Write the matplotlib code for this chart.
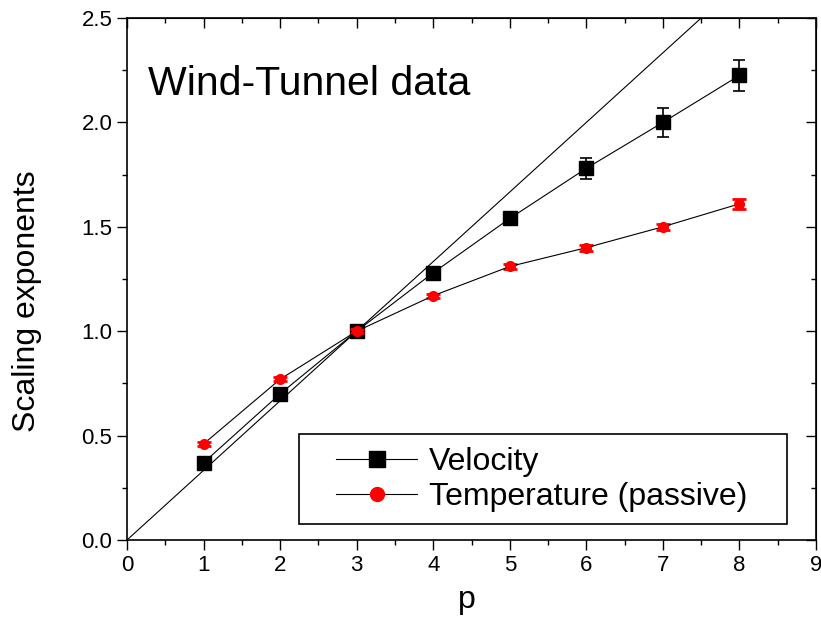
import matplotlib
matplotlib.use("Agg")
import matplotlib.pyplot as plt
from matplotlib.patches import Rectangle
from matplotlib.lines import Line2D
from matplotlib.ticker import MultipleLocator

plt.rcParams['font.family'] = ['Liberation Sans', 'DejaVu Sans']

p = [1, 2, 3, 4, 5, 6, 7, 8]
vel = [0.37, 0.70, 1.00, 1.28, 1.54, 1.78, 2.00, 2.225]
vel_err = [0.01, 0.01, 0.01, 0.02, 0.02, 0.05, 0.07, 0.075]
temp = [0.46, 0.77, 1.00, 1.17, 1.31, 1.40, 1.50, 1.61]
temp_err = [0.01, 0.01, 0.01, 0.01, 0.01, 0.015, 0.015, 0.025]
k41_p = [0, 9]
k41 = [v / 3 for v in k41_p]

fig = plt.figure(figsize=(8.21, 6.18), dpi=100)
ax = fig.add_axes([127/821, 1-540/618, 689/821, 522/618])

ax.plot(k41_p, k41, color='black', lw=0.8, zorder=2)
ax.errorbar(p, vel, yerr=vel_err, color='black', lw=0.8, marker='s', ms=10.5,
            mfc='black', mec='black', ecolor='black', elinewidth=1.2,
            capsize=4, capthick=1.2, zorder=3)
ax.errorbar(p, temp, yerr=temp_err, color='black', lw=0.8, marker='o', ms=7,
            mfc='red', mec='red', ecolor='red', elinewidth=1.5,
            capsize=5, capthick=2, zorder=4)

ax.set_xlim(0, 9)
ax.set_ylim(0, 2.5)
ax.xaxis.set_major_locator(MultipleLocator(1))
ax.xaxis.set_minor_locator(MultipleLocator(0.5))
ax.yaxis.set_major_locator(MultipleLocator(0.5))
ax.yaxis.set_minor_locator(MultipleLocator(0.25))
ax.yaxis.set_major_formatter(matplotlib.ticker.FormatStrFormatter('%.1f'))

ax.tick_params(which='both', direction='out', top=False, right=False, labelsize=16, width=1)
ax.tick_params(which='major', length=7)
ax.tick_params(which='minor', length=3.6)
for s in ax.spines.values():
    s.set_linewidth(1.2)

# inward ticks on top/right
axt = ax.secondary_xaxis('top')
axt.xaxis.set_major_locator(MultipleLocator(1))
axt.xaxis.set_minor_locator(MultipleLocator(0.5))
axt.tick_params(which='both', direction='in', labeltop=False, width=1)
axt.tick_params(which='major', length=7)
axt.tick_params(which='minor', length=3.6)
axr = ax.secondary_yaxis('right')
axr.yaxis.set_major_locator(MultipleLocator(0.5))
axr.yaxis.set_minor_locator(MultipleLocator(0.25))
axr.tick_params(which='both', direction='in', labelright=False, width=1)
axr.tick_params(which='major', length=7)
axr.tick_params(which='minor', length=3.6)

ax.set_xlabel('p', fontsize=23, va='baseline')
ax.xaxis.set_label_coords((467-127)/689, (540-608)/522)
ax.set_ylabel('Scaling exponents', fontsize=23, va='center')
ax.yaxis.set_label_coords((27-127)/689, (540-301)/522)

ax.text((148-127)/689, (540-95)/522, 'Wind-Tunnel data', fontsize=29.5,
        transform=ax.transAxes, va='baseline', ha='left')

# legend frame
ax.add_patch(Rectangle(((299-127)/689, (540-524)/522), 488/689, 90/522,
                       transform=ax.transAxes, fill=False, ec='black', lw=1.2, zorder=5))
handles = [
    Line2D([], [], color='black', lw=0.8, marker='s', ms=11, mfc='black', mec='black'),
    Line2D([], [], color='black', lw=0.8, marker='o', ms=10, mfc='red', mec='red'),
]
leg = ax.legend(handles, ['Velocity', 'Temperature (passive)'],
                loc='upper left', bbox_to_anchor=((336-127)/689, (540-447)/522),
                frameon=False, fontsize=23, handlelength=2.55, handletextpad=0.35,
                borderpad=0, borderaxespad=0, labelspacing=0.15)
leg.set_zorder(6)

fig.savefig('out.png', dpi=100)
